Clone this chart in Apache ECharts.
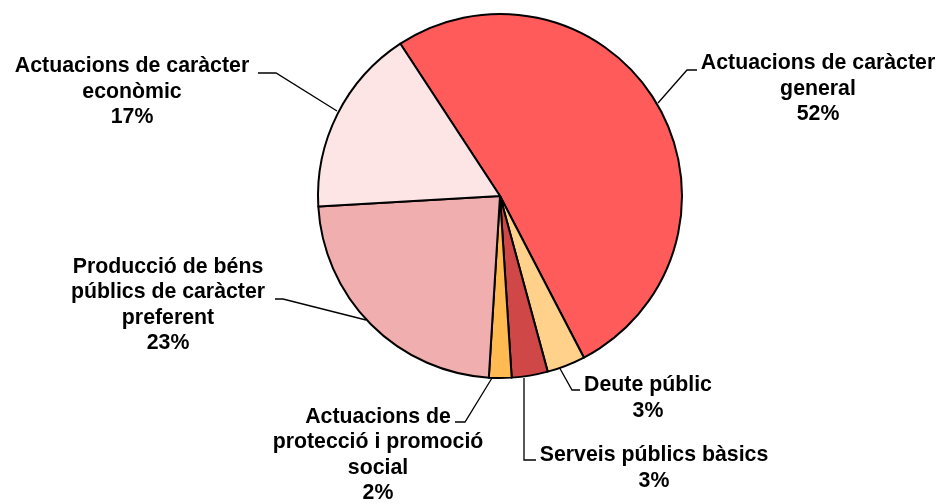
<!DOCTYPE html>
<html>
<head>
<meta charset="utf-8">
<script src="https://cdn.jsdelivr.net/npm/echarts@6/dist/echarts.min.js"></script>
<style>
html,body{margin:0;padding:0;background:#fff;}
#chart{width:944px;height:504px;}
</style>
</head>
<body>
<div id="chart"></div>
<script>
// Data (clockwise from start)
const categories = [
  'Actuacions de caràcter\ngeneral',
  'Deute públic',
  'Serveis públics bàsics',
  'Actuacions de\nprotecció i promoció\nsocial',
  'Producció de béns\npúblics de caràcter\npreferent',
  'Actuacions de caràcter\neconòmic'
];
const values = [51.6, 3.4, 3.2, 2.0, 23.1, 16.7];
const colors = ['#FF5B5B', '#FFD18A', '#CF4747', '#FFBA52', '#F0AEAE', '#FDE5E5'];

// label placement (styling only)
const labelPos = [
  {x: 818, y: 89,  pts: [[687, 70], [697, 70]]},
  {x: 648, y: 398, pts: [[572, 390], [580, 390]]},
  {x: 654, y: 468, pts: [[524, 460], [536, 460]]},
  {x: 378, y: 455, pts: [[465, 422], [455, 422]]},
  {x: 168, y: 305, pts: [[283, 299], [275, 299]]},
  {x: 132, y: 92,  pts: [[276, 73], [258, 73]]}
];
const edgePts = [[658, 103], [558, 365], [524, 378], [492, 378], [366, 320], [337, 111]];

const chart = echarts.init(document.getElementById('chart'), null, {renderer: 'canvas'});
chart.setOption({
  animation: false,
  backgroundColor: '#ffffff',
  series: [{
    type: 'pie',
    center: [500, 196],
    radius: [0, 182],
    startAngle: 123.2,
    clockwise: true,
    avoidLabelOverlap: false,
    data: categories.map((c, i) => ({
      name: c, value: values[i],
      itemStyle: {color: colors[i]}
    })),
    itemStyle: {borderColor: '#000', borderWidth: 2},
    emphasis: {disabled: true},
    label: {
      show: true,
      position: 'outside',
      formatter: p => p.name + '\n' + Math.round(p.percent) + '%',
      fontFamily: "'Liberation Sans', Arial, sans-serif",
      fontWeight: 'bold',
      fontSize: 21.3,
      lineHeight: 25.5,
      color: '#000',
      align: 'center'
    },
    labelLine: {show: true, lineStyle: {color: '#000', width: 1.3}},
    labelLayout: function (params) {
      const lp = labelPos[params.dataIndex];
      return {
        x: lp.x, y: lp.y,
        align: 'center', verticalAlign: 'middle',
        labelLinePoints: [edgePts[params.dataIndex], lp.pts[0], lp.pts[1]]
      };
    }
  }]
});
</script>
</body>
</html>
